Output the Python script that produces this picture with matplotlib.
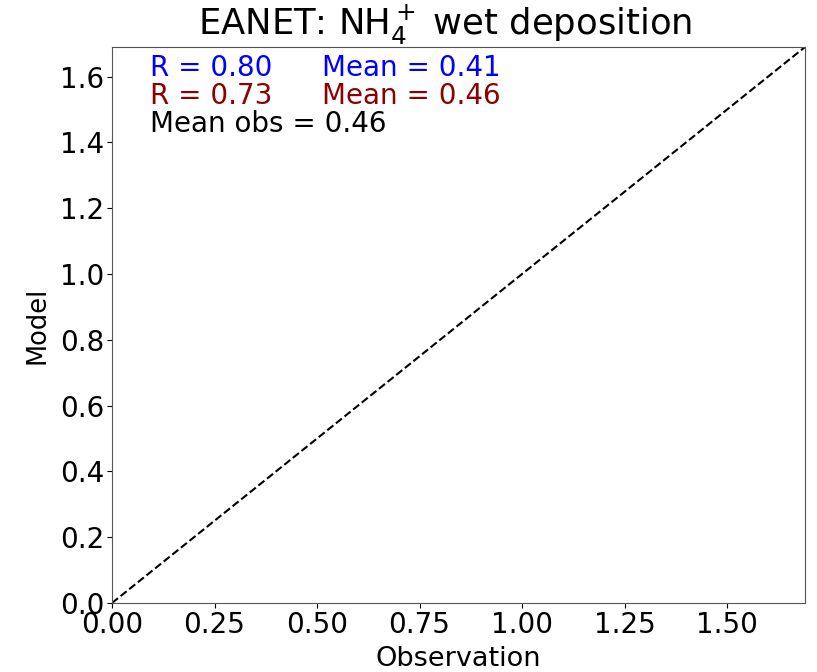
import matplotlib
matplotlib.use('Agg')
import matplotlib.pyplot as plt
import numpy as np

# Dữ liệu thống kê (không có điểm quan trắc hiển thị)
obs = []
model_1 = []
model_2 = []
axis_max = 1.69
stats_1 = {'R': 0.80, 'Mean': 0.41}
stats_2 = {'R': 0.73, 'Mean': 0.46}
mean_obs = 0.46

fig = plt.figure(figsize=(8.17, 6.72), dpi=100)
ax = fig.add_axes([112 / 817, 69 / 672, 693 / 817, 556 / 672])

ax.scatter(obs, model_1, c='blue', s=20)
ax.scatter(obs, model_2, c='darkred', s=20)
ax.plot([0, axis_max], [0, axis_max], 'k--', lw=1.5)

ax.set_xlim(0, axis_max)
ax.set_ylim(0, axis_max)
ax.set_xticks(np.arange(0, 1.51, 0.25))
ax.set_yticks(np.arange(0, 1.61, 0.2))
ax.xaxis.set_major_formatter(matplotlib.ticker.FormatStrFormatter('%.2f'))
ax.yaxis.set_major_formatter(matplotlib.ticker.FormatStrFormatter('%.1f'))
ax.tick_params(labelsize=20, pad=2)
for sp in ax.spines.values():
    sp.set_color('#555555')

ax.set_xlabel('Observation', fontsize=19.5, labelpad=5)
ax.set_ylabel('Model', fontsize=18.5, labelpad=7)
ax.set_title(r'EANET: NH$_4^+$ wet deposition', fontsize=25.5, pad=4, x=0.481)

tx = 0.055
fs = 20
ax.text(tx, 0.988, 'R = %.2f' % stats_1['R'], color='blue', fontsize=fs,
        transform=ax.transAxes, va='top')
ax.text(0.303, 0.988, 'Mean = %.2f' % stats_1['Mean'], color='blue', fontsize=fs,
        transform=ax.transAxes, va='top')
ax.text(tx, 0.937, 'R = %.2f' % stats_2['R'], color='darkred', fontsize=fs,
        transform=ax.transAxes, va='top')
ax.text(0.303, 0.937, 'Mean = %.2f' % stats_2['Mean'], color='darkred', fontsize=fs,
        transform=ax.transAxes, va='top')
ax.text(tx, 0.886, 'Mean obs = %.2f' % mean_obs, color='black', fontsize=fs,
        transform=ax.transAxes, va='top')

fig.savefig('out.png', dpi=100)
